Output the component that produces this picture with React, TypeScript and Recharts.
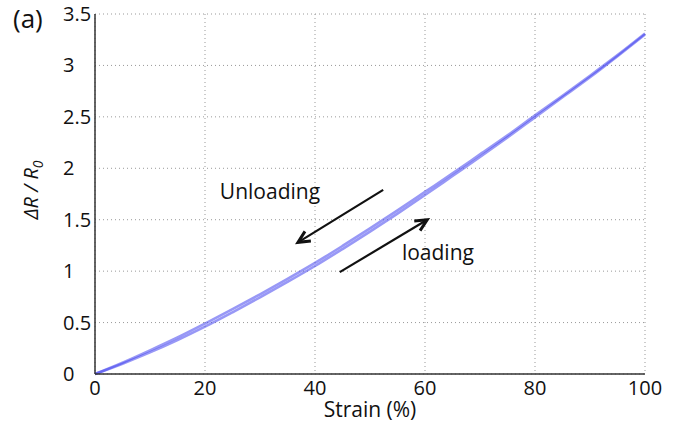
import {
  LineChart,
  Line,
  XAxis,
  YAxis,
  CartesianGrid,
  ReferenceLine,
  ReferenceDot,
  Label,
} from 'recharts'

const strain = [0, 5, 10, 15, 20, 25, 30, 35, 40, 45, 50, 55, 60, 65, 70, 75, 80, 85, 90, 95, 100]
const loading = [0, 0.1, 0.21, 0.33, 0.46, 0.6, 0.745, 0.895, 1.05, 1.215, 1.385, 1.56, 1.74, 1.925, 2.11, 2.3, 2.495, 2.69, 2.885, 3.09, 3.3]
const unloading = [0, 0.11, 0.23, 0.355, 0.49, 0.63, 0.775, 0.925, 1.08, 1.245, 1.415, 1.59, 1.77, 1.95, 2.135, 2.32, 2.515, 2.705, 2.9, 3.1, 3.31]
const xTicks = [0, 20, 40, 60, 80, 100]
const yTicks = [0, 0.5, 1, 1.5, 2, 2.5, 3, 3.5]

// arrows: [fromX, fromY, toX, toY]
const unloadArrow = [52.4, 1.79, 36.9, 1.28]
const loadArrow = [44.5, 0.99, 60.4, 1.5]
const notes = [
  { x: 22.7, y: 1.7, text: 'Unloading' },
  { x: 55.8, y: 1.11, text: 'loading' },
]

const rows = strain.map((s, i) => ({ x: s, load: loading[i], unload: unloading[i] }))

const font = '"Open Sans", sans-serif'
const ink = '#111'

// eslint-disable-next-line @typescript-eslint/no-explicit-any
function Arrow(p: any) {
  const { x1, y1, x2, y2 } = p
  if (x1 == null) return null
  const a = Math.atan2(y2 - y1, x2 - x1)
  const L = 13
  const s = 0.45
  const h1 = [x2 - L * Math.cos(a - s), y2 - L * Math.sin(a - s)]
  const h2 = [x2 - L * Math.cos(a + s), y2 - L * Math.sin(a + s)]
  return (
    <g>
      <line x1={x1} y1={y1} x2={x2} y2={y2} stroke="#111" strokeWidth={2.2} />
      <polyline
        points={`${h1[0]},${h1[1]} ${x2},${y2} ${h2[0]},${h2[1]}`}
        fill="none"
        stroke="#111"
        strokeWidth={3}
        strokeLinejoin="miter"
      />
    </g>
  )
}

// eslint-disable-next-line @typescript-eslint/no-explicit-any
function YTick({ x, y, payload }: any) {
  return (
    <text x={x - 24} y={y} dy={7} textAnchor="start" fontSize={20} fill={ink} fontFamily={font}>
      {payload.value}
    </text>
  )
}

// eslint-disable-next-line @typescript-eslint/no-explicit-any
function YTitle({ viewBox }: any) {
  const cx = viewBox.x + 38
  const cy = viewBox.y + viewBox.height / 2 - 4
  return (
    <text
      x={cx}
      y={cy}
      transform={`rotate(-90 ${cx} ${cy})`}
      textAnchor="middle"
      fontSize={20}
      fill={ink}
      fontFamily={font}
      fontStyle="italic"
    >
      ΔR / R
      <tspan fontSize={14} dy={5}>
        0
      </tspan>
    </text>
  )
}

// eslint-disable-next-line @typescript-eslint/no-explicit-any
function XTitle({ viewBox }: any) {
  return (
    <text
      x={viewBox.x + viewBox.width / 2}
      y={viewBox.y + 43}
      textAnchor="middle"
      fontSize={21}
      fill={ink}
      fontFamily={font}
    >
      Strain (%)
    </text>
  )
}

export default function App() {
  return (
    <div style={{ position: 'absolute', left: 0, top: 0, width: 684, height: 438, background: '#fff' }}>
      <div
        style={{
          position: 'absolute',
          left: 13,
          top: 3,
          fontSize: 26,
          lineHeight: '30px',
          fontFamily: font,
          color: ink,
        }}
      >
        (a)
      </div>
      <LineChart width={684} height={438} data={rows} margin={{ top: 14, right: 39, bottom: 0, left: 0 }}>
        <CartesianGrid stroke="#999" strokeDasharray="1 3" />
        <XAxis
          dataKey="x"
          type="number"
          domain={[0, 100]}
          ticks={xTicks}
          height={64}
          tickLine={false}
          axisLine={{ stroke: '#333', strokeWidth: 1.5 }}
          tick={{ fontSize: 20, fill: ink, fontFamily: font }}
          tickMargin={1}
        >
          <Label content={XTitle} />
        </XAxis>
        <XAxis
          xAxisId="top"
          orientation="top"
          type="number"
          domain={[0, 100]}
          height={0}
          tick={false}
          tickLine={false}
          axisLine={{ stroke: '#333', strokeWidth: 1.5 }}
        />
        <YAxis
          type="number"
          domain={[0, 3.5]}
          ticks={yTicks}
          width={95}
          tickLine={false}
          axisLine={{ stroke: '#333', strokeWidth: 1.5 }}
          tick={<YTick />}
        >
          <Label content={YTitle} />
        </YAxis>
        <YAxis
          yAxisId="right"
          orientation="right"
          type="number"
          domain={[0, 3.5]}
          width={0}
          tick={false}
          tickLine={false}
          axisLine={{ stroke: '#333', strokeWidth: 1.5 }}
        />
        <Line
          type="monotone"
          dataKey="load"
          stroke="#4444ee"
          strokeOpacity={0.55}
          strokeWidth={2.6}
          dot={false}
          isAnimationActive={false}
        />
        <Line
          type="monotone"
          dataKey="unload"
          stroke="#4444ee"
          strokeOpacity={0.55}
          strokeWidth={2.6}
          dot={false}
          isAnimationActive={false}
        />
        <ReferenceLine
          segment={[
            { x: unloadArrow[0], y: unloadArrow[1] },
            { x: unloadArrow[2], y: unloadArrow[3] },
          ]}
          shape={<Arrow />}
        />
        <ReferenceLine
          segment={[
            { x: loadArrow[0], y: loadArrow[1] },
            { x: loadArrow[2], y: loadArrow[3] },
          ]}
          shape={<Arrow />}
        />
        {notes.map((n) => (
          <ReferenceDot
            key={n.text}
            x={n.x}
            y={n.y}
            r={0}
            // eslint-disable-next-line @typescript-eslint/no-explicit-any
            shape={(p: any) => (
              <text x={p.cx} y={p.cy} fontSize={21} fill={ink} fontFamily={font}>
                {n.text}
              </text>
            )}
          />
        ))}
      </LineChart>
    </div>
  )
}
